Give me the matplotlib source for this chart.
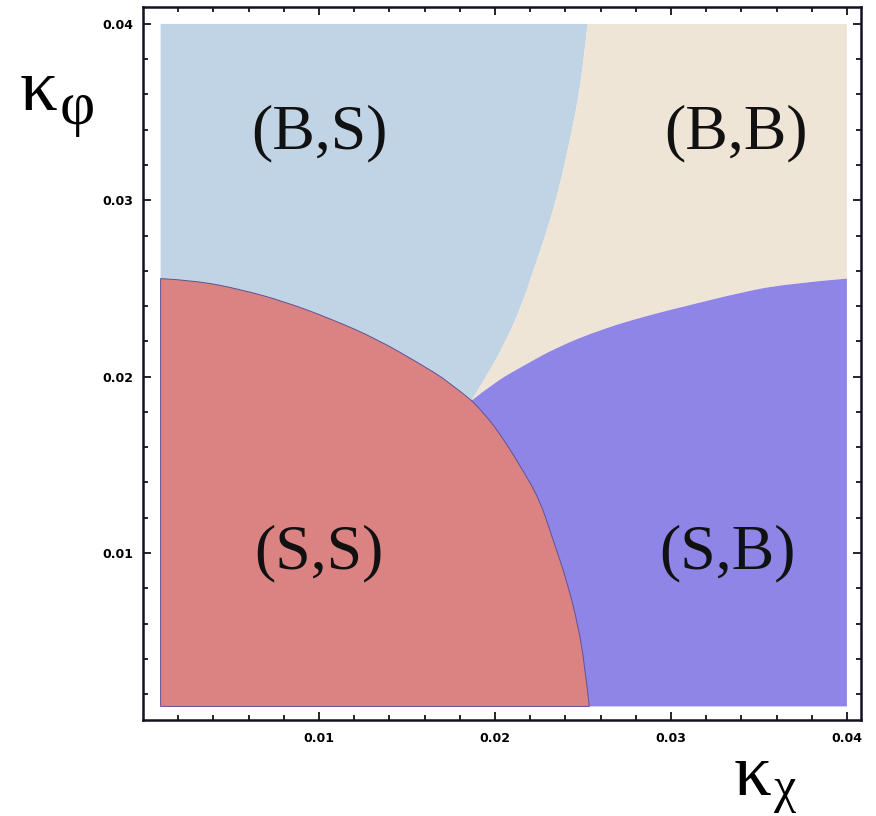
import numpy as np
import matplotlib
matplotlib.use("Agg")
import matplotlib.pyplot as plt
from matplotlib.path import Path
from matplotlib.patches import PathPatch

# phase boundaries (kappa_chi, kappa_phi)
# red (S,S) upper edge, from the left side to the triple point
ss_top_x = [0.001, 0.00297, 0.00555, 0.00812, 0.01069, 0.01326, 0.01584, 0.01738, 0.01867]
ss_top_y = [0.02556, 0.02545, 0.02495, 0.02423, 0.02327, 0.02215, 0.02067, 0.01971, 0.01864]
# red (S,S) right edge, from the triple point down to the bottom
ss_right_x = [0.01867, 0.01944, 0.02047, 0.0215, 0.02253, 0.0233, 0.02407, 0.02472, 0.0251, 0.02536]
ss_right_y = [0.01864, 0.01788, 0.01648, 0.01483, 0.01305, 0.01075, 0.00847, 0.00592, 0.00364, 0.0013]
# (B,S) / (B,B) edge, from the triple point up to the top
bs_bb_x = [0.01867, 0.01944, 0.02047, 0.0215, 0.02227, 0.02305, 0.02369, 0.0242, 0.02472, 0.02505, 0.02526]
bs_bb_y = [0.01864, 0.01991, 0.02169, 0.02398, 0.02627, 0.02856, 0.03085, 0.03314, 0.03568, 0.03797, 0.04]
# (B,B) / (S,B) edge, from the triple point to the right side
bb_sb_x = [0.01867, 0.01995, 0.0215, 0.02356, 0.02613, 0.0287, 0.03128, 0.03385, 0.03643, 0.04]
bb_sb_y = [0.01864, 0.01966, 0.02055, 0.02169, 0.02271, 0.02347, 0.02411, 0.02474, 0.02525, 0.02556]

x_lo, x_hi = 0.001, 0.04
y_lo, y_hi = 0.0013, 0.04

region_labels = ["(B,S)", "(B,B)", "(S,S)", "(S,B)"]
label_x = [0.0100, 0.0337, 0.0100, 0.0332]
label_y = [0.0338, 0.0338, 0.0100, 0.0100]

major_ticks = [0.01, 0.02, 0.03, 0.04]
tick_labels = ["0.01", "0.02", "0.03", "0.04"]

c_bs = "#c0d4e6"
c_bb = "#eee5d6"
c_ss = "#db8383"
c_sb = "#8e85e6"


def smooth_segs(xs, ys):
    # quadratic bezier pieces through the midpoints, read points as controls
    verts, codes = [], []
    n = len(xs)
    if n < 3:
        for x, y in zip(xs[1:], ys[1:]):
            verts.append((x, y))
            codes.append(Path.LINETO)
        return verts, codes
    for i in range(1, n - 1):
        mx = (xs[i] + xs[i + 1]) / 2 if i < n - 2 else xs[i + 1]
        my = (ys[i] + ys[i + 1]) / 2 if i < n - 2 else ys[i + 1]
        verts += [(xs[i], ys[i]), (mx, my)]
        codes += [Path.CURVE3, Path.CURVE3]
    return verts, codes


def region_path(pieces):
    # pieces: list of (xs, ys, smooth) joined end to end
    verts = [(pieces[0][0][0], pieces[0][1][0])]
    codes = [Path.MOVETO]
    for xs, ys, smooth in pieces:
        if smooth:
            v, c = smooth_segs(xs, ys)
        else:
            v = list(zip(xs[1:], ys[1:]))
            c = [Path.LINETO] * len(v)
        verts += v
        codes += c
    verts.append(verts[0])
    codes.append(Path.CLOSEPOLY)
    return Path(verts, codes)


fig = plt.figure(figsize=(8.76, 8.16), dpi=100)
ax = fig.add_axes([143 / 876, 1 - 720 / 816, 718 / 876, 713 / 816])

# (B,S): top-left
p_bs = region_path([
    ([x_lo, x_lo, bs_bb_x[-1]], [ss_top_y[0], y_hi, y_hi], False),
    (bs_bb_x[::-1], bs_bb_y[::-1], True),
    (ss_top_x[::-1], ss_top_y[::-1], True),
])
ax.add_patch(PathPatch(p_bs, facecolor=c_bs, lw=0))

# (B,B): top-right
p_bb = region_path([
    (bs_bb_x, bs_bb_y, True),
    ([bs_bb_x[-1], x_hi, x_hi], [y_hi, y_hi, bb_sb_y[-1]], False),
    (bb_sb_x[::-1], bb_sb_y[::-1], True),
])
ax.add_patch(PathPatch(p_bb, facecolor=c_bb, lw=0))

# (S,B): bottom-right
p_sb = region_path([
    (bb_sb_x, bb_sb_y, True),
    ([x_hi, x_hi, ss_right_x[-1]], [bb_sb_y[-1], y_lo, y_lo], False),
    (ss_right_x[::-1], ss_right_y[::-1], True),
])
ax.add_patch(PathPatch(p_sb, facecolor=c_sb, lw=0))

# (S,S): bottom-left
p_ss = region_path([
    ([x_lo, x_lo], [y_lo, ss_top_y[0]], False),
    (ss_top_x, ss_top_y, True),
    (ss_right_x, ss_right_y, True),
])
ax.add_patch(PathPatch(p_ss, facecolor=c_ss, edgecolor="#5e4f92", lw=0.7))

for t, lx, ly in zip(region_labels, label_x, label_y):
    ax.text(lx, ly, t, ha="center", va="center", fontsize=46,
            family="Liberation Serif", color="#111111")

ax.set_xlim(0.0, 0.0408)
ax.set_ylim(0.00053, 0.04096)

ax.set_xticks(major_ticks)
ax.set_xticklabels(tick_labels)
ax.set_yticks(major_ticks)
ax.set_yticklabels(tick_labels)
ax.set_xticks(np.arange(0.002, 0.0401, 0.002), minor=True)
ax.set_yticks(np.arange(0.002, 0.0401, 0.002), minor=True)
ax.tick_params(which="both", direction="in", top=True, right=True, width=1.2)
ax.tick_params(which="major", length=6)
ax.tick_params(which="minor", length=3.5)
ax.tick_params(axis="x", which="major", pad=9, labelsize=9)
ax.tick_params(axis="y", which="major", pad=7, labelsize=9)
for lab in ax.get_xticklabels() + ax.get_yticklabels():
    lab.set_fontweight("bold")
for sp in ax.spines.values():
    sp.set_linewidth(1.8)
    sp.set_color("#111122")

# axis symbols, upright serif like the original
fig.text(20 / 876, 1 - 110 / 816, "κ", fontsize=54, family="Liberation Serif",
         ha="left", va="baseline")
fig.text(60 / 876, 1 - 124 / 816, "φ", fontsize=44, family="Liberation Serif",
         ha="left", va="baseline")
fig.text(734 / 876, 1 - 795 / 816, "κ", fontsize=54, family="Liberation Serif",
         ha="left", va="baseline")
fig.text(774 / 876, 1 - 802 / 816, "χ", fontsize=36, family="Liberation Serif",
         ha="left", va="baseline")

fig.savefig("out.png", dpi=100)
